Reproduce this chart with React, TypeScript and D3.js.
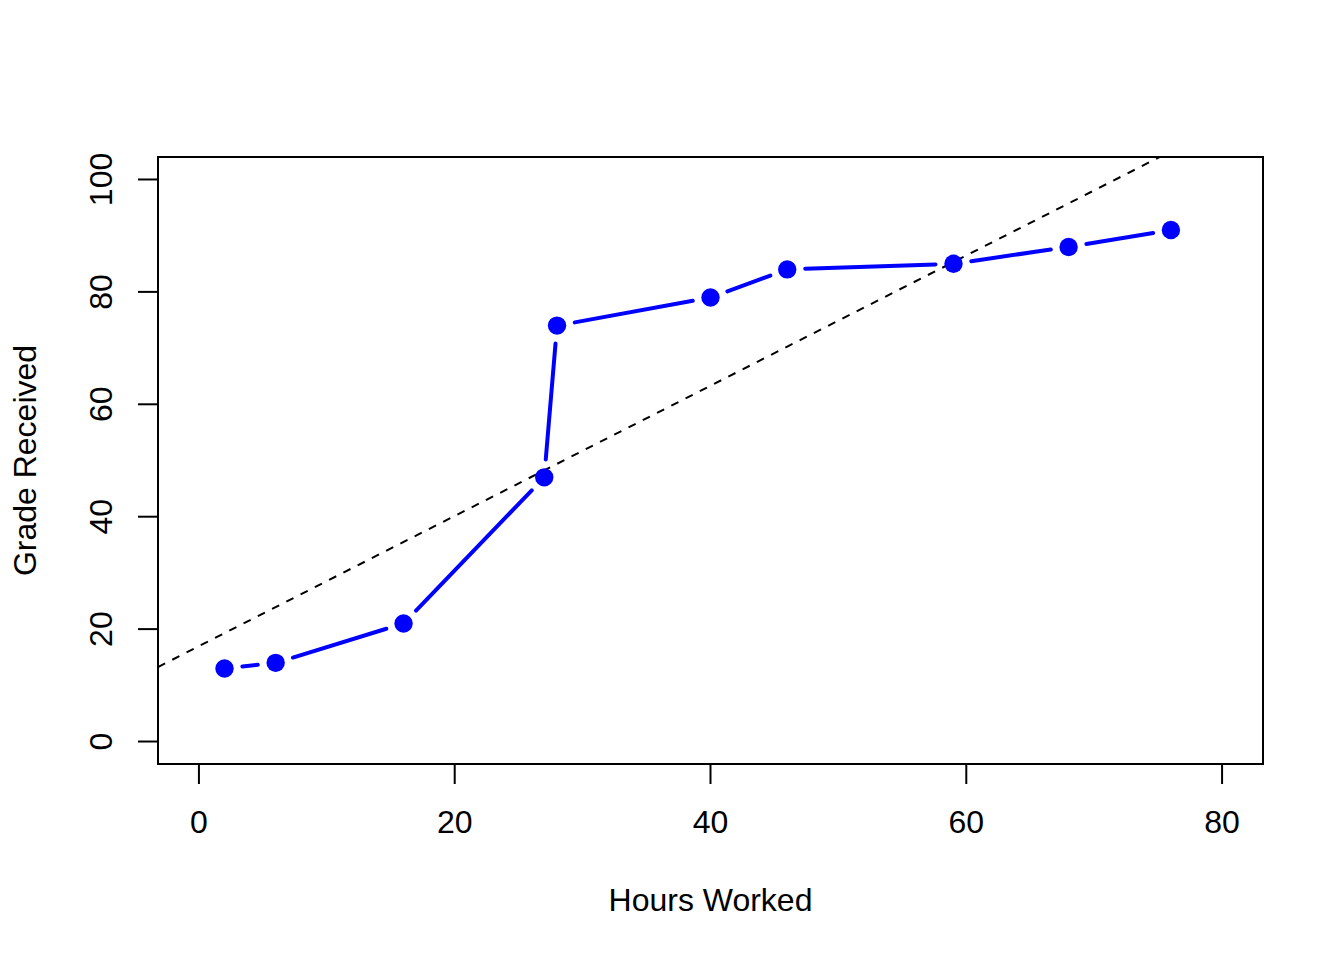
import { useEffect } from 'react'
import * as d3 from 'd3'

// hours worked vs grade received
const hours = [2, 6, 16, 27, 28, 40, 46, 59, 68, 76]
const grades = [13, 14, 21, 47, 74, 79, 84, 85, 88, 91]
const xTicks = [0, 20, 40, 60, 80]
const yTicks = [0, 20, 40, 60, 80, 100]

const width = 1344
const height = 960
const plot = { left: 158, right: 1263, top: 157, bottom: 764 }
const font = '"Liberation Sans", Arial, Helvetica, sans-serif'
const blue = '#0000FF'

const App = () => {
  useEffect(() => {
    document.body.style.margin = '0'
  }, [])

  // R pads the axis limits by 4% on each side
  const xScale = d3.scaleLinear().domain([-3.2, 83.2]).range([plot.left, plot.right])
  const yScale = d3.scaleLinear().domain([-4, 104]).range([plot.bottom, plot.top])

  // least squares fit, drawn like abline(lm(grade ~ hours))
  const mx = d3.mean(hours) || 0
  const my = d3.mean(grades) || 0
  const sxy = d3.sum(hours, (h, i) => (h - mx) * (grades[i] - my))
  const sxx = d3.sum(hours, h => (h - mx) * (h - mx))
  const slope = sxy / sxx
  const intercept = my - slope * mx
  const [x0, x1] = xScale.domain()

  const pts = hours.map((h, i) => [xScale(h), yScale(grades[i])])

  // type = "b": segments with a gap around each point
  const gap = 18
  const segments = pts.slice(1).map((p, i) => {
    const q = pts[i]
    const dx = p[0] - q[0]
    const dy = p[1] - q[1]
    const len = Math.hypot(dx, dy)
    if (len <= 2 * gap) return null
    const ux = dx / len
    const uy = dy / len
    return [q[0] + ux * gap, q[1] + uy * gap, p[0] - ux * gap, p[1] - uy * gap]
  }).filter(Boolean) as number[][]

  return (
    <svg width={width} height={height} style={{ display: 'block', background: '#fff' }} fontFamily={font}>
      <defs>
        <clipPath id="plotClip">
          <rect x={plot.left} y={plot.top} width={plot.right - plot.left} height={plot.bottom - plot.top} />
        </clipPath>
      </defs>

      <line
        clipPath="url(#plotClip)"
        x1={xScale(x0)} y1={yScale(intercept + slope * x0)}
        x2={xScale(x1)} y2={yScale(intercept + slope * x1)}
        stroke="#000" strokeWidth={2} strokeDasharray="8,8"
      />

      {segments.map((s, i) => (
        <line key={i} x1={s[0]} y1={s[1]} x2={s[2]} y2={s[3]}
          stroke={blue} strokeWidth={4} strokeLinecap="round" />
      ))}
      {pts.map((p, i) => (
        <circle key={i} cx={p[0]} cy={p[1]} r={9.2} fill={blue} />
      ))}

      <rect x={plot.left} y={plot.top} width={plot.right - plot.left} height={plot.bottom - plot.top}
        fill="none" stroke="#000" strokeWidth={2} />

      {/* x axis */}
      <line x1={xScale(xTicks[0])} x2={xScale(xTicks[xTicks.length - 1])} y1={plot.bottom} y2={plot.bottom}
        stroke="#000" strokeWidth={2} />
      {xTicks.map(t => (
        <g key={t}>
          <line x1={xScale(t)} x2={xScale(t)} y1={plot.bottom} y2={plot.bottom + 20} stroke="#000" strokeWidth={2} />
          <text x={xScale(t)} y={833} textAnchor="middle" fontSize={32} fill="#000">{t}</text>
        </g>
      ))}

      {/* y axis */}
      <line x1={plot.left} x2={plot.left} y1={yScale(yTicks[0])} y2={yScale(yTicks[yTicks.length - 1])}
        stroke="#000" strokeWidth={2} />
      {yTicks.map(t => (
        <g key={t}>
          <line x1={plot.left} x2={plot.left - 20} y1={yScale(t)} y2={yScale(t)} stroke="#000" strokeWidth={2} />
          <text transform={`translate(112,${yScale(t)}) rotate(-90)`} textAnchor="middle" fontSize={32} fill="#000">{t}</text>
        </g>
      ))}

      <text x={(plot.left + plot.right) / 2} y={911} textAnchor="middle" fontSize={32} fill="#000">Hours Worked</text>
      <text transform={`translate(36,${(plot.top + plot.bottom) / 2}) rotate(-90)`} textAnchor="middle" fontSize={32} fill="#000">Grade Received</text>
    </svg>
  )
}

export default App
